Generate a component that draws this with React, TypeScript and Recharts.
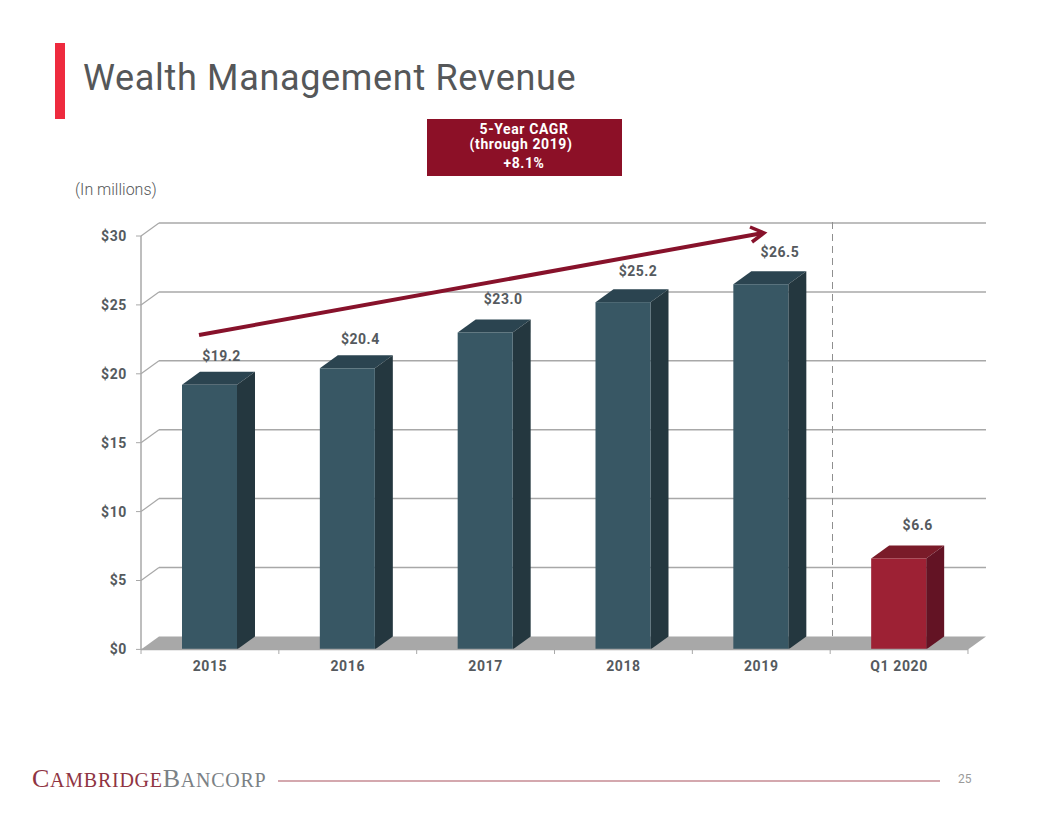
import React from 'react';
import {
  BarChart,
  Bar,
  XAxis,
  YAxis,
  CartesianGrid,
  LabelList,
} from 'recharts';

const categories = ['2015', '2016', '2017', '2018', '2019', 'Q1 2020'];
const revenue = [19.2, 20.4, 23.0, 25.2, 26.5, 6.6];
const valueTicks = [0, 5, 10, 15, 20, 25, 30];

const data = categories.map((name, i) => ({ name, revenue: revenue[i] }));

// depth of the fake 3D box
const DX = 18;
const DY = 13;
const GRID = '#a8a8a8';
const TEXT = '#555a5e';
const FONT = 'Roboto, sans-serif';

const tealBar = { front: '#385764', top: '#2b4450', side: '#24373f' };
const redBar = { front: '#9d2134', top: '#7a1b29', side: '#631324' };

// the labels sit unevenly over the boxes in the original
const labelNudge = [12, 13, 18, 15, 19, 19];
const labelLift = [16, 16, 20, 18, 19, 20];

const GridLine = (props: any) => {
  const { x1, x2, y1 } = props;
  if (y1 > 640) {
    return (
      <polygon
        points={`${x1},${y1} ${x1 + DX},${y1 - DY} ${x2 + DX},${y1 - DY} ${x2},${y1}`}
        fill="#a8a8a8"
      />
    );
  }
  return (
    <g>
      <line x1={x1} y1={y1} x2={x1 + DX} y2={y1 - DY} stroke={GRID} strokeWidth={1.2} />
      <line x1={x1 + DX} y1={y1 - DY} x2={x2 + DX} y2={y1 - DY} stroke={GRID} strokeWidth={1.5} />
    </g>
  );
};

const BoxBar = (props: any) => {
  const { x, y, width, height, index } = props;
  const c = index === 5 ? redBar : tealBar;
  const r = x + width;
  const b = y + height;
  return (
    <g>
      <polygon
        points={`${x},${y} ${x + DX},${y - DY} ${r + DX},${y - DY} ${r},${y}`}
        fill={c.top}
      />
      <polygon
        points={`${r},${y} ${r + DX},${y - DY} ${r + DX},${b - DY} ${r},${b}`}
        fill={c.side}
      />
      <rect x={x} y={y} width={width} height={height} fill={c.front} />
    </g>
  );
};

const ValueLabel = (props: any) => {
  const { x, y, width, value, index } = props;
  return (
    <text
      x={x + width / 2 + labelNudge[index]}
      y={y - DY - labelLift[index]}
      textAnchor="middle"
      dominantBaseline="central"
      fontFamily={FONT}
      fontWeight={700}
      fontSize={14}
      letterSpacing={0.5}
      fill={TEXT}
    >
      ${value.toFixed(1)}
    </text>
  );
};

const CategoryTick = (props: any) => {
  const { x, y, payload, index } = props;
  const half = 68.9;
  return (
    <g>
      <line x1={x - half} y1={649} x2={x - half} y2={654} stroke={GRID} />
      {index === categories.length - 1 && (
        <line x1={x + half} y1={649} x2={x + half} y2={654} stroke={GRID} />
      )}
      <text
        x={x}
        y={y + 14}
        textAnchor="middle"
        fontFamily={FONT}
        fontWeight={700}
        fontSize={14}
        letterSpacing={0.6}
        fill={TEXT}
      >
        {payload.value}
      </text>
    </g>
  );
};

const Overlay = () => (
  <svg
    width={1056}
    height={816}
    style={{ position: 'absolute', left: 0, top: 0, pointerEvents: 'none' }}
  >
    <rect x={55} y={43} width={10} height={76} fill="#ee2b3e" />
    <text x={83} y={90} fontFamily={FONT} fontSize={36} letterSpacing={0.67} fill="#555759">
      Wealth Management Revenue
    </text>

    <rect x={427} y={119} width={195} height={57} fill="#8c1027" />
    <g fill="#fff" fontFamily={FONT} fontWeight={700} fontSize={14} textAnchor="middle" letterSpacing={0.6}>
      <text x={524} y={134}>5-Year CAGR</text>
      <text x={521} y={149}>(through 2019)</text>
      <text x={524} y={168}>+8.1%</text>
    </g>
    <text x={75} y={195} fontFamily={FONT} fontWeight={300} fontSize={16} fill="#555759">
      (In millions)
    </text>

    <line x1={832.5} y1={222} x2={832.5} y2={636} stroke="#8f8f8f" strokeDasharray="7 5" />
    <line x1={199} y1={335} x2={763} y2={233} stroke="#87122b" strokeWidth={4} />
    <polyline
      points="750,227 764,233 752,242"
      fill="none"
      stroke="#87122b"
      strokeWidth={3.5}
    />

    <text x={32} y={787} fontFamily="Liberation Serif, serif" fontSize={20} letterSpacing={0.75} fill="#8f3442">
      <tspan fontSize={26}>C</tspan>AMBRIDGE
      <tspan fill="#7b8185" dx={0} fontSize={26}>B</tspan>
      <tspan fill="#7b8185">ANCORP</tspan>
    </text>
    <line x1={278} y1={781} x2={940} y2={781} stroke="#a9525f" strokeWidth={1.2} />
    <text x={958} y={783} fontFamily={FONT} fontSize={12} fill="#9a9a9a">
      25
    </text>
  </svg>
);

export default function App() {
  return (
    <div style={{ position: 'absolute', left: 0, top: 0, width: 1056, height: 816, background: '#fff' }}>
      <BarChart
        width={1056}
        height={816}
        data={data}
        margin={{ top: 236, right: 88, bottom: 136.6, left: 81 }}
      >
        <CartesianGrid vertical={false} horizontal={GridLine} />
        <XAxis
          dataKey="name"
          height={30}
          axisLine={{ stroke: GRID, strokeWidth: 1.5 }}
          tickLine={false}
          tick={CategoryTick}
          interval={0}
        />
        <YAxis
          width={60}
          domain={[0, 30]}
          ticks={valueTicks}
          interval={0}
          axisLine={{ stroke: GRID, strokeWidth: 1.5 }}
          tickLine={{ stroke: GRID }}
          tickSize={5}
          tickMargin={9}
          tickFormatter={(v: number) => `$${v}`}
          tick={{ fontFamily: FONT, fontWeight: 700, fontSize: 14, letterSpacing: 0.6, fill: TEXT }}
        />
        <Bar dataKey="revenue" barSize={55} shape={BoxBar} isAnimationActive={false}>
          <LabelList dataKey="revenue" content={ValueLabel} />
        </Bar>
      </BarChart>
      <Overlay />
    </div>
  );
}
